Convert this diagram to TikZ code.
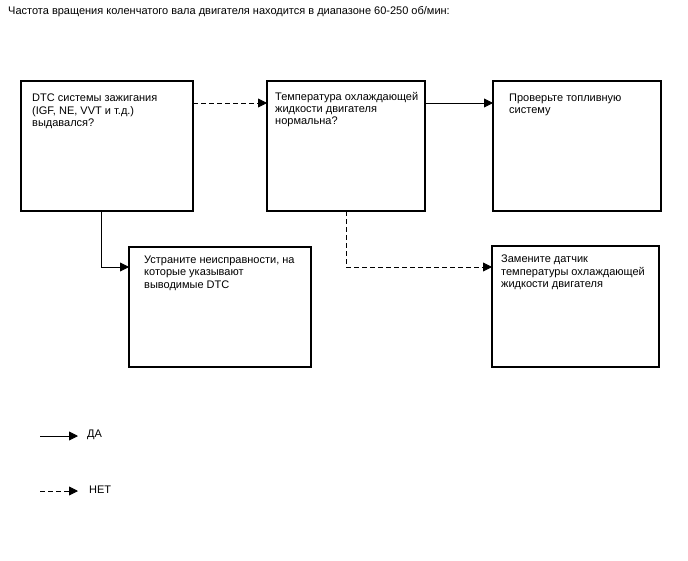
\documentclass[tikz,border=0pt]{standalone}
\usepackage{fontspec}
\setmainfont{Liberation Sans}
\usetikzlibrary{arrows.meta}
\begin{document}
\begin{tikzpicture}[x=1pt,y=-1pt,
  box/.style={draw=black,line width=1.4pt,fill=white,inner sep=0pt,outer sep=0pt,anchor=north west},
  txt/.style={anchor=north west,inner sep=0pt,align=left,font=\fontsize{11}{12.2}\selectfont},
  conn/.style={line width=0.9pt,-{Triangle[length=9pt,width=9pt]}},
  dashconn/.style={conn,dash pattern=on 4.5pt off 3.5pt}]
\fill[white] (0,0) rectangle (688,560);
\useasboundingbox (0,0) rectangle (688,560);
\node[txt,anchor=west] (title) at (8,12) {Частота вращения коленчатого вала двигателя находится в диапазоне 60-250 об/мин:};
\node[box,minimum width=172pt,minimum height=130pt] (b1) at (21,81) {};
\node[box,minimum width=158pt,minimum height=130pt] (b2) at (267,81) {};
\node[box,minimum width=168pt,minimum height=130pt] (b3) at (493,81) {};
\node[box,minimum width=182pt,minimum height=120pt] (b4) at (129,247) {};
\node[box,minimum width=167pt,minimum height=121pt] (b5) at (492,246) {};
\node[txt] (t1) at (32,94) {DTC системы зажигания\\(IGF, NE, VVT и т.д.)\\выдавался?};
\node[txt] (t2) at (275,92) {Температура охлаждающей\\жидкости двигателя\\нормальна?};
\node[txt] (t3) at (509,94) {Проверьте топливную\\систему};
\node[txt] (t4) at (144,256) {Устраните неисправности, на\\которые указывают\\выводимые DTC};
\node[txt] (t5) at (501,255) {Замените датчик\\температуры охлаждающей\\жидкости двигателя};
\coordinate (r1) at (0,103);
\coordinate (r2) at (0,267);
\coordinate (v1) at (101,0);
\coordinate (v2) at (346,0);
\draw[dashconn] (b1.east |- r1) -- (b2.west |- r1);
\draw[conn] (b2.east |- r1) -- (b3.west |- r1);
\draw[conn] (b1.south -| v1) |- (b4.west |- r2);
\draw[dashconn] (b2.south -| v2) |- (b5.west |- r2);
\coordinate (l1) at (40,436);
\coordinate (l1e) at (78,436);
\coordinate (l2) at (40,491);
\coordinate (l2e) at (78,491);
\draw[conn] (l1) -- (l1e);
\draw[dashconn] (l2) -- (l2e);
\node[txt,anchor=west] (yes) at (87,435) {ДА};
\node[txt,anchor=west] (no) at (89,490) {НЕТ};
\end{tikzpicture}
\end{document}
